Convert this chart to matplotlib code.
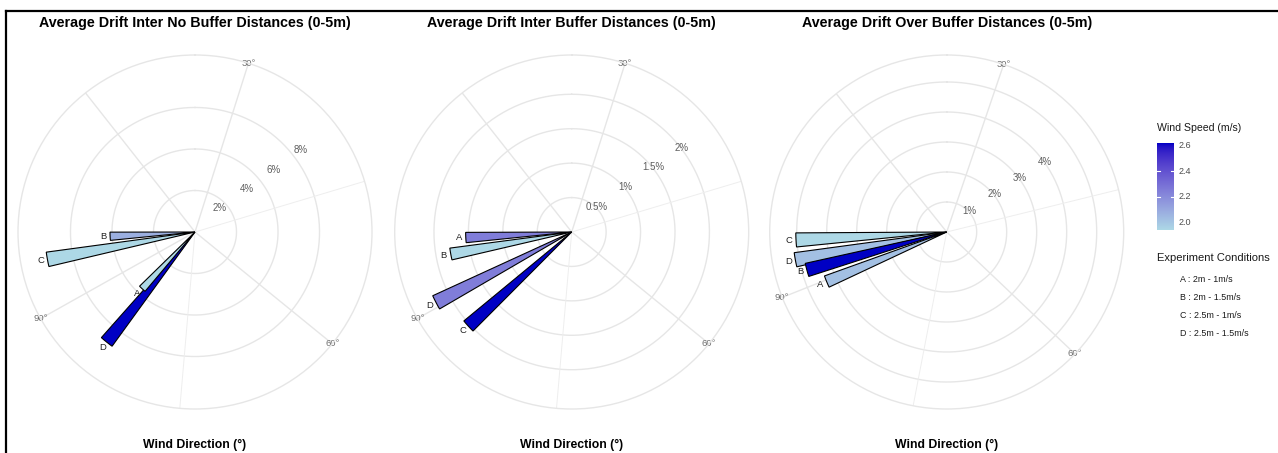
import numpy as np
import matplotlib
matplotlib.use("Agg")
import matplotlib.pyplot as plt
from matplotlib.colors import ListedColormap, Normalize, to_rgb
from matplotlib.lines import Line2D

plt.rcParams['font.family'] = ['Liberation Sans', 'DejaVu Sans']

# ---------------- data ----------------
conditions = ["A", "B", "C", "D"]
condition_text = ["A : 2m - 1m/s", "B : 2m - 1.5m/s", "C : 2.5m - 1m/s", "D : 2.5m - 1.5m/s"]

titles = ["Average Drift Inter No Buffer Distances (0-5m)",
          "Average Drift Inter Buffer Distances (0-5m)",
          "Average Drift Over Buffer Distances (0-5m)"]

# wind direction (deg), average drift (%), wind speed (m/s) per condition A-D
dir_no_buffer = [85.2, 0.3, 95.05, 84.1]
drift_no_buffer = [4.67, 5.12, 9.04, 8.5]
wind_no_buffer = [1.94, 2.08, 1.94, 2.62]

dir_inter_buffer = [0.27, 95.1, 86.5, 90.5]
drift_inter_buffer = [1.54, 1.785, 2.03, 2.22]
wind_inter_buffer = [2.25, 1.94, 2.62, 2.25]

dir_over_buffer = [89.8, 91.7, 0.78, 92.95]
drift_over_buffer = [4.33, 4.83, 5.03, 5.13]
wind_over_buffer = [2.02, 2.62, 1.94, 2.02]

radial_labels = [[2, 4, 6, 8], [0.5, 1, 1.5, 2], [1, 2, 3, 4]]
radial_rings = [[2.5, 5, 7.5], [0.5, 1, 1.5, 2], [1, 2, 3, 4, 5]]
radial_max = [10.66, 2.57, 5.9]

# direction scale: bearing of 0 and span of one full turn
theta_zero = [266.0, 266.0, 264.0]
theta_span = [96.8, 96.8, 94.1]
bar_width = [1.5, 1.5, 1.4]

major_dirs = [15, 30, 60, 90]
minor_dirs = [45, 75]
labelled_dirs = [30, 60, 90]
radial_label_dir = 40

wind_ticks = [2.0, 2.2, 2.4, 2.6]
wind_min, wind_max = 1.94, 2.62

panels = [
    (dir_no_buffer, drift_no_buffer, wind_no_buffer),
    (dir_inter_buffer, drift_inter_buffer, wind_inter_buffer),
    (dir_over_buffer, drift_over_buffer, wind_over_buffer),
]

# ---------------- colour scale (Lab interpolation lightblue -> blue3) ----------------
_M = np.array([[0.4124, 0.3576, 0.1805],
               [0.2126, 0.7152, 0.0722],
               [0.0193, 0.1192, 0.9505]])
_WHITE = np.array([0.95047, 1.0, 1.08883])


def to_lab(rgb):
    c = np.asarray(rgb, float)
    lin = np.where(c <= 0.04045, c / 12.92, ((c + 0.055) / 1.055) ** 2.4)
    xyz = _M @ lin / _WHITE
    f = np.where(xyz > 216 / 24389, np.cbrt(xyz), (24389 / 27 * xyz + 16) / 116)
    return np.array([116 * f[1] - 16, 500 * (f[0] - f[1]), 200 * (f[1] - f[2])])


def from_lab(lab):
    L, a, b = lab
    fy = (L + 16) / 116
    f = np.array([fy + a / 500, fy, fy - b / 200])
    xyz = np.where(f ** 3 > 216 / 24389, f ** 3, (116 * f - 16) / (24389 / 27)) * _WHITE
    lin = np.clip(np.linalg.inv(_M) @ xyz, 0, 1)
    c = np.where(lin <= 0.0031308, 12.92 * lin, 1.055 * lin ** (1 / 2.4) - 0.055)
    return np.clip(c, 0, 1)


lab_lo, lab_hi = to_lab(to_rgb("#ADD8E6")), to_lab(to_rgb("#0000C4"))
cmap = ListedColormap([from_lab(lab_lo + t * (lab_hi - lab_lo)) for t in np.linspace(0, 1, 256)])
norm = Normalize(wind_min, wind_max)

# ---------------- figure ----------------
W, H = 1278, 453
fig = plt.figure(figsize=(W / 100, H / 100), dpi=100)
fig.patch.set_facecolor("white")

centers_x = [195, 571.7, 946.7]
center_y = 232
R = 177
grid_col = "#E6E6E6"

for i, (dirs, drift, wind) in enumerate(panels):
    cx = centers_x[i]
    ax = fig.add_axes([(cx - R) / W, (H - center_y - R) / H, 2 * R / W, 2 * R / H],
                      projection="polar")
    ax.set_theta_zero_location("N")
    ax.set_theta_direction(-1)
    rmax = radial_max[i]
    ax.set_ylim(0, rmax)
    ax.set_xticks([])
    ax.set_yticks([])
    ax.grid(False)
    ax.spines["polar"].set_color(grid_col)
    ax.spines["polar"].set_linewidth(1.0)

    def bearing(v, i=i):
        return np.deg2rad(theta_zero[i] + v * 360.0 / theta_span[i])

    full = np.linspace(0, 2 * np.pi, 400)
    for r in radial_rings[i]:
        ax.plot(full, np.full_like(full, r), color=grid_col, lw=1.0, zorder=0)
    for d in major_dirs:
        ax.plot([bearing(d)] * 2, [0, rmax], color=grid_col, lw=1.0, zorder=0)
    for d in minor_dirs:
        ax.plot([bearing(d)] * 2, [0, rmax], color="#EEEEEE", lw=0.7, zorder=0)

    for d in labelled_dirs:
        ax.text(bearing(d), rmax, f"{d}°", ha="center", va="center",
                fontsize=6.8, color="#6E6E6E", clip_on=False, zorder=1)
    for v in radial_labels[i]:
        ax.annotate(f"{v:g}%", xy=(bearing(radial_label_dir), v), xytext=(-2, 3.6),
                    textcoords="offset points", ha="center", va="center",
                    fontsize=7, color="#5E5E5E", zorder=1)

    width = np.deg2rad(bar_width[i] * 360.0 / theta_span[i])
    order = np.argsort(drift)[::-1]
    pad = 7 * rmax / R
    for k, j in enumerate(order):
        ax.bar(bearing(dirs[j]), drift[j], width=width, bottom=0, align="center",
               color=cmap(norm(wind[j])), edgecolor="black", linewidth=0.8, zorder=2 + k)
        ax.text(bearing(dirs[j]), drift[j] + pad, conditions[j], ha="center", va="center",
                fontsize=6.8, color="#222222", zorder=10)

    fig.text(cx / W, 1 - 23 / H, titles[i], ha="center", va="center",
             fontsize=10.3, fontweight="bold")
    fig.text(cx / W, 1 - 445 / H, "Wind Direction (°)", ha="center", va="center",
             fontsize=8.8, fontweight="bold")

# ---------------- colour bar ----------------
cb_left, cb_top, cb_w, cb_h = 1157, 143, 17, 87
cax = fig.add_axes([cb_left / W, (H - cb_top - cb_h) / H, cb_w / W, cb_h / H])
cax.imshow(np.linspace(wind_min, wind_max, 256)[:, None], cmap=cmap, norm=norm,
           aspect="auto", origin="lower", extent=[0, 1, wind_min, wind_max])
cax.set_xlim(0, 1)
cax.set_ylim(wind_min, wind_max)
cax.set_axis_off()
ytr = cax.get_yaxis_transform()
for t in wind_ticks:
    cax.text(1.25, t, f"{t:.1f}", transform=ytr, ha="left", va="center",
             fontsize=6.5, color="#4D4D4D")
    if wind_ticks[0] < t < wind_ticks[-1]:
        cax.plot([0, 0.2], [t, t], color="white", lw=0.8)
        cax.plot([0.8, 1], [t, t], color="white", lw=0.8)

fig.text(1157 / W, 1 - 128 / H, "Wind Speed (m/s)", ha="left", va="center",
         fontsize=7.6, color="#1A1A1A")
fig.text(1157 / W, 1 - 258 / H, "Experiment Conditions", ha="left", va="center",
         fontsize=8, color="#1A1A1A")
for k, s in enumerate(condition_text):
    fig.text(1180 / W, 1 - (279 + 18 * k) / H, s, ha="left", va="center",
             fontsize=6.4, color="#1A1A1A")

# frame lines on the left and top
fig.add_artist(Line2D([6 / W, 6 / W], [0, 1 - 11 / H], color="black", lw=1.6))
fig.add_artist(Line2D([6 / W, 1], [1 - 11 / H, 1 - 11 / H], color="black", lw=1.6))

fig.savefig("out.png", dpi=100, facecolor="white")
